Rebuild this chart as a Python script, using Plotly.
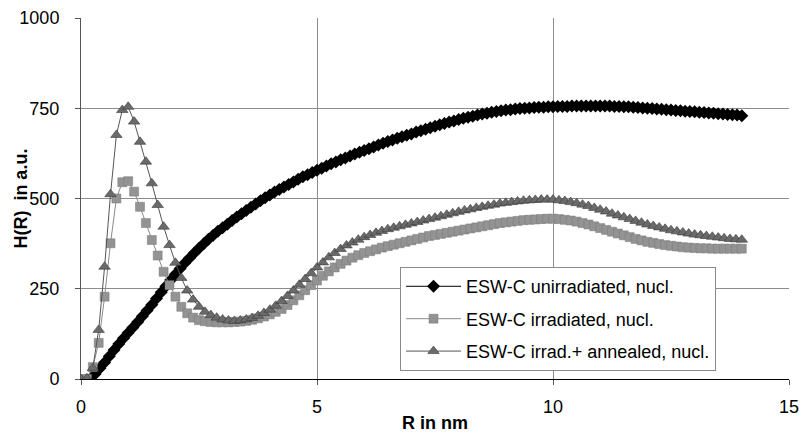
import plotly.graph_objects as go

# ---------------- data ----------------
R_UNIRR = [
    0.2, 0.3, 0.4, 0.5, 0.6, 0.7, 0.8, 0.9, 1.0, 1.1,
    1.2, 1.3, 1.4, 1.5, 1.6, 1.7, 1.8, 1.9, 2.0, 2.1,
    2.2, 2.3, 2.4, 2.5, 2.6, 2.7, 2.8, 2.9, 3.0, 3.1,
    3.2, 3.3, 3.4, 3.5, 3.6, 3.7, 3.8, 3.9, 4.0, 4.1,
    4.2, 4.3, 4.4, 4.5, 4.6, 4.7, 4.8, 4.9, 5.0, 5.1,
    5.2, 5.3, 5.4, 5.5, 5.6, 5.7, 5.8, 5.9, 6.0, 6.1,
    6.2, 6.3, 6.4, 6.5, 6.6, 6.7, 6.8, 6.9, 7.0, 7.1,
    7.2, 7.3, 7.4, 7.5, 7.6, 7.7, 7.8, 7.9, 8.0, 8.1,
    8.2, 8.3, 8.4, 8.5, 8.6, 8.7, 8.8, 8.9, 9.0, 9.1,
    9.2, 9.3, 9.4, 9.5, 9.6, 9.7, 9.8, 9.9, 10.0, 10.1,
    10.2, 10.3, 10.4, 10.5, 10.6, 10.7, 10.8, 10.9, 11.0, 11.1,
    11.2, 11.3, 11.4, 11.5, 11.6, 11.7, 11.8, 11.9, 12.0, 12.1,
    12.2, 12.3, 12.4, 12.5, 12.6, 12.7, 12.8, 12.9, 13.0, 13.1,
    13.2, 13.3, 13.4, 13.5, 13.6, 13.7, 13.8, 13.9, 14.0,
]
H_UNIRR = [
    0, 14, 30, 46, 63, 80, 97, 113, 128, 143,
    158, 174, 190, 206, 223, 240, 257, 274, 290, 306,
    321, 335, 349, 362, 375, 387, 398, 409, 419, 429,
    439, 449, 458, 467, 476, 485, 494, 502, 510, 518,
    525, 532, 539, 546, 553, 560, 566, 572, 578, 584,
    590, 596, 601, 607, 612, 618, 623, 628, 633, 638,
    643, 648, 653, 658, 662, 667, 671, 675, 679, 684,
    688, 692, 696, 700, 704, 708, 712, 715, 719, 722,
    725, 728, 731, 734, 736, 739, 741, 743, 745, 746,
    748, 749, 750, 751, 752, 753, 753, 754, 754, 755,
    755, 755, 756, 756, 756, 756, 756, 756, 756, 756,
    756, 755, 755, 754, 754, 753, 752, 751, 750, 749,
    748, 747, 746, 745, 744, 743, 742, 741, 740, 739,
    738, 737, 736, 735, 734, 733, 732, 731, 729,
]

R_IRR = [
    0.0, 0.125, 0.25, 0.375, 0.5, 0.625, 0.75, 0.875,
    1.0, 1.125, 1.25, 1.375, 1.5, 1.625, 1.75, 1.875,
    2.0, 2.125, 2.25, 2.375, 2.5, 2.625, 2.75, 2.875,
    3.0, 3.125, 3.25, 3.375, 3.5, 3.625, 3.75, 3.875,
    4.0, 4.125, 4.25, 4.375, 4.5, 4.625, 4.75, 4.875,
    5.0, 5.125, 5.25, 5.375, 5.5, 5.625, 5.75, 5.875,
    6.0, 6.125, 6.25, 6.375, 6.5, 6.625, 6.75, 6.875,
    7.0, 7.125, 7.25, 7.375, 7.5, 7.625, 7.75, 7.875,
    8.0, 8.125, 8.25, 8.375, 8.5, 8.625, 8.75, 8.875,
    9.0, 9.125, 9.25, 9.375, 9.5, 9.625, 9.75, 9.875,
    10.0, 10.125, 10.25, 10.375, 10.5, 10.625, 10.75, 10.875,
    11.0, 11.125, 11.25, 11.375, 11.5, 11.625, 11.75, 11.875,
    12.0, 12.125, 12.25, 12.375, 12.5, 12.625, 12.75, 12.875,
    13.0, 13.125, 13.25, 13.375, 13.5, 13.625, 13.75, 13.875,
    14.0,
]
H_IRR = [
    0, 0, 33, 100, 228, 376, 500, 545,
    548, 519, 477, 432, 385, 342, 297, 260,
    228, 200, 182, 170, 163, 160, 158, 157,
    157, 157, 158, 159, 161, 164, 168, 173,
    179, 186, 194, 205, 218, 232, 246, 260,
    273, 286, 298, 309, 319, 328, 336, 343,
    349, 354, 359, 364, 368, 372, 376, 380,
    384, 388, 392, 396, 399, 402, 405, 408,
    411, 414, 417, 420, 423, 426, 429, 432,
    434, 436, 438, 440, 441, 442, 443, 444,
    444, 443, 441, 439, 436, 432, 428, 423,
    418, 413, 408, 403, 398, 393, 388, 384,
    380, 377, 374, 371, 369, 367, 365, 364,
    363, 362, 362, 361, 361, 361, 361, 361,
    361,
]
H_ANN = [
    0, 2, 30, 136, 311, 512, 676, 745,
    754, 713, 657, 602, 542, 482, 422, 371,
    322, 280, 245, 220, 200, 186, 177, 170,
    165, 162, 161, 162, 165, 169, 175, 183,
    192, 203, 216, 230, 245, 261, 277, 293,
    309, 323, 337, 349, 360, 370, 378, 386,
    393, 399, 405, 410, 415, 419, 423, 427,
    431, 435, 439, 443, 447, 451, 455, 459,
    463, 467, 470, 474, 477, 480, 483, 486,
    488, 490, 492, 494, 495, 496, 497, 497,
    497, 495, 493, 490, 487, 483, 479, 474,
    469, 464, 458, 453, 448, 443, 438, 433,
    428, 424, 420, 416, 412, 409, 406, 403,
    400, 398, 396, 394, 392, 390, 388, 387,
    386,
]

NAMES = [
    "ESW-C unirradiated, nucl.",
    "ESW-C irradiated, nucl.",
    "ESW-C irrad.+ annealed, nucl.",
]
X_TICKS = [0, 5, 10, 15]
Y_TICKS = [0, 250, 500, 750, 1000]
Y_TITLE = "<b>H(R)  in a.u.</b>"
X_TITLE = "<b>R in nm</b>"

FONT = "Arial, Liberation Sans, sans-serif"

fig = go.Figure()
fig.add_trace(go.Scatter(
    x=R_UNIRR, y=H_UNIRR, name=NAMES[0], mode="lines+markers", legendgroup="a",
    line=dict(color="black", width=1),
    marker=dict(symbol="diamond", size=10, color="black"),
))
fig.add_trace(go.Scatter(
    x=R_IRR, y=H_IRR, name=NAMES[1], mode="lines+markers", legendgroup="b",
    line=dict(color="#8a8a8a", width=1),
    marker=dict(symbol="square", size=9, color="#939393",
                line=dict(color="#7a7a7a", width=0.5)),
))
fig.add_trace(go.Scatter(
    x=R_IRR, y=H_ANN, name=NAMES[2], mode="lines+markers", legendgroup="c",
    line=dict(color="#555555", width=1),
    marker=dict(symbol="triangle-up", size=10, color="#6a6a6a",
                line=dict(color="#3a3a3a", width=0.6)),
))

fig.update_layout(
    width=803, height=433,
    margin=dict(l=81, r=14, t=18, b=54),
    paper_bgcolor="white", plot_bgcolor="white",
    font=dict(family=FONT, size=18, color="black"),
    showlegend=True,
    legend=dict(
        x=0.4506, y=0.31, xanchor="left", yanchor="top",
        bgcolor="white", bordercolor="#8a8a8a", borderwidth=1,
        font=dict(family=FONT, size=18, color="black"),
        tracegroupgap=6, itemwidth=55,
    ),
    xaxis=dict(
        range=[0, 15], tickvals=X_TICKS, ticktext=[str(v) for v in X_TICKS],
        showgrid=True, gridcolor="#8c8c8c", gridwidth=1,
        showline=True, linecolor="black", linewidth=1,
        ticks="outside", ticklen=5, tickcolor="#555555",
        zeroline=False, ticklabelstandoff=6, automargin=False,
        title=dict(text=X_TITLE, font=dict(family=FONT, size=18), standoff=4),
    ),
    yaxis=dict(
        range=[0, 1000], tickvals=Y_TICKS, ticktext=[str(v) for v in Y_TICKS],
        showgrid=True, gridcolor="#8c8c8c", gridwidth=1,
        showline=True, linecolor="#555555", linewidth=1,
        ticks="outside", ticklen=5, tickcolor="#555555",
        zeroline=False, ticklabelstandoff=12, automargin=False,
    ),
    annotations=[dict(
        text=Y_TITLE, xref="paper", yref="paper", x=-0.086, y=0.5,
        xanchor="center", yanchor="middle", textangle=-90, showarrow=False,
        font=dict(family=FONT, size=18, color="black"),
    )],
)

fig.write_html("out.html")
